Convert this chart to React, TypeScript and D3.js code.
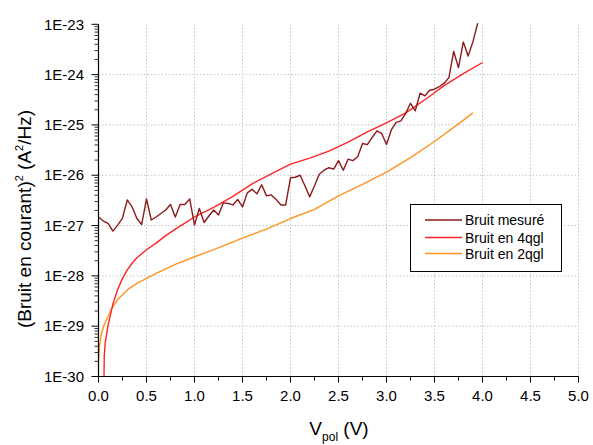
import React from 'react';
import * as d3 from 'd3';

// ---- data ----
const measuredV = [
  0, 0.05, 0.1, 0.15, 0.2, 0.25, 0.3, 0.35, 0.4, 0.45,
  0.5, 0.55, 0.6, 0.65, 0.7, 0.75, 0.8, 0.85, 0.9, 0.95,
  1.0, 1.05, 1.1, 1.15, 1.2, 1.25, 1.3, 1.35, 1.4, 1.45,
  1.5, 1.55, 1.6, 1.65, 1.7, 1.75, 1.8, 1.85, 1.9, 1.95,
  2.0, 2.05, 2.1, 2.15, 2.2, 2.25, 2.3, 2.35, 2.4, 2.45,
  2.5, 2.55, 2.6, 2.65, 2.7, 2.75, 2.8, 2.85, 2.9, 2.95,
  3.0, 3.05, 3.1, 3.15, 3.2, 3.25, 3.3, 3.35, 3.4, 3.45,
  3.5, 3.55, 3.6, 3.65, 3.7, 3.75, 3.8, 3.85, 3.9, 3.95,
];
const measuredNoise = [
  1.48e-27, 1.23e-27, 1.1e-27, 7.76e-28, 1.02e-27, 1.41e-27, 3.24e-27, 2.34e-27, 1.38e-27, 1.05e-27,
  3.39e-27, 1.29e-27, 1.48e-27, 1.74e-27, 2.04e-27, 2.63e-27, 1.48e-27, 2.63e-27, 2.63e-27, 3.39e-27,
  1.02e-27, 2.19e-27, 1.15e-27, 1.55e-27, 2.04e-27, 1.62e-27, 2.82e-27, 2.75e-27, 2.57e-27, 3.31e-27,
  2.34e-27, 4.47e-27, 5.25e-27, 4.27e-27, 6.46e-27, 3.89e-27, 4.07e-27, 3.31e-27, 2.57e-27, 2.57e-27,
  8.91e-27, 9.12e-27, 1.0e-26, 6.17e-27, 3.72e-27, 6.17e-27, 1.05e-26, 1.26e-26, 1.41e-26, 1.32e-26,
  1.95e-26, 1.26e-26, 2.09e-26, 1.95e-26, 2.34e-26, 4.27e-26, 4.07e-26, 5.62e-26, 7.59e-26, 6.76e-26,
  4.07e-26, 7.94e-26, 1.12e-25, 1.2e-25, 1.7e-25, 2.69e-25, 1.91e-25, 4.27e-25, 3.8e-25, 4.9e-25,
  5.13e-25, 5.75e-25, 6.76e-25, 8.71e-25, 2.88e-24, 1.38e-24, 4.47e-24, 2.34e-24, 4.47e-24, 1.05e-23,
];

const v4qgl = [0.05, 0.06, 0.07, 0.1, 0.15, 0.2, 0.25, 0.3, 0.35, 0.4, 0.5, 0.6, 0.7, 0.8, 0.9, 1.0, 1.2, 1.4, 1.6, 1.8, 2.0, 2.2, 2.4, 2.6, 2.8, 3.0, 3.2, 3.4, 3.5, 3.6, 3.8, 4.0];
const noise4qgl = [1e-31, 2.51e-30, 4.68e-30, 1.05e-29, 2.75e-29, 5.37e-29, 8.91e-29, 1.32e-28, 1.78e-28, 2.29e-28, 3.31e-28, 4.47e-28, 6.31e-28, 8.51e-28, 1.12e-27, 1.48e-27, 2.29e-27, 3.8e-27, 6.76e-27, 1.07e-26, 1.66e-26, 2.19e-26, 3.02e-26, 4.57e-26, 7.24e-26, 1.1e-25, 1.74e-25, 3.16e-25, 4.37e-25, 6.03e-25, 1.05e-24, 1.74e-24];

const v2qgl = [0, 0.01, 0.03, 0.06, 0.1, 0.14, 0.2, 0.3, 0.4, 0.5, 0.6, 0.8, 1.0, 1.2, 1.5, 1.75, 2.0, 2.25, 2.5, 2.75, 3.0, 3.25, 3.5, 3.75, 3.9];
const noise2qgl = [2.0e-30, 3.98e-30, 7.08e-30, 1.07e-29, 1.58e-29, 2.29e-29, 3.39e-29, 5.25e-29, 7.08e-29, 8.91e-29, 1.12e-28, 1.7e-28, 2.4e-28, 3.31e-28, 5.62e-28, 8.51e-28, 1.38e-27, 2.09e-27, 3.89e-27, 6.61e-27, 1.15e-26, 2.24e-26, 4.68e-26, 1.05e-25, 1.74e-25];

const xTickValues = [0, 0.5, 1.0, 1.5, 2.0, 2.5, 3.0, 3.5, 4.0, 4.5, 5.0];
const xTickLabels = ['0.0', '0.5', '1.0', '1.5', '2.0', '2.5', '3.0', '3.5', '4.0', '4.5', '5.0'];
const yTickValues = [1e-30, 1e-29, 1e-28, 1e-27, 1e-26, 1e-25, 1e-24, 1e-23];
const yTickLabels = ['1E-30', '1E-29', '1E-28', '1E-27', '1E-26', '1E-25', '1E-24', '1E-23'];
const legendLabels = ['Bruit mesuré', 'Bruit en 4qgl', 'Bruit en 2qgl'];
const seriesColors = ['#8b1a1a', '#ff2424', '#ff9424'];

const FONT = '"Liberation Sans", Arial, Helvetica, sans-serif';

export default function App() {
  const W = 593, H = 445;
  const left = 98.5, right = 578.5, top = 24.3, bottom = 376.5;
  const x = d3.scaleLinear().domain([0, 5]).range([left, right]);
  const y = d3.scaleLog().domain([1e-30, 1e-23]).range([bottom, top]);

  const line = d3.line<[number, number]>().x(d => x(d[0])).y(d => y(d[1]));
  const mk = (vs: number[], ns: number[]) => line(vs.map((v, i) => [v, ns[i]] as [number, number])) || '';

  const series = [
    mk(measuredV, measuredNoise),
    mk(v4qgl, noise4qgl),
    mk(v2qgl, noise2qgl),
  ];

  const minorY: number[] = [];
  for (let i = 0; i < yTickValues.length - 1; i++) {
    for (let k = 2; k <= 9; k++) minorY.push(yTickValues[i] * k);
  }
  const minorX: number[] = [];
  for (let i = 0; i < xTickValues.length - 1; i++) minorX.push((xTickValues[i] + xTickValues[i + 1]) / 2);

  const gridStyle = { stroke: '#c4c4c4', strokeWidth: 1, strokeDasharray: '1.5,2' };

  const legX = 410.5, legY = 204.5, legW = 151, legH = 67;
  const rowY = [220, 237.5, 253.5];

  return (
    <svg width={W} height={H} style={{ position: 'absolute', left: 0, top: 0, background: '#fff' }} fontFamily={FONT}>
      <defs>
        <clipPath id="plotclip">
          <rect x={left} y={0} width={right - left + 2} height={bottom} />
        </clipPath>
      </defs>
      <rect x={0} y={0} width={W} height={H} fill="#fff" />
      {/* grid */}
      {xTickValues.slice(1).map((v, i) => (
        <line key={'gx' + i} x1={x(v)} x2={x(v)} y1={top} y2={bottom} {...gridStyle} />
      ))}
      {yTickValues.slice(1, -1).map((v, i) => (
        <line key={'gy' + i} x1={left} x2={right} y1={y(v)} y2={y(v)} {...gridStyle} />
      ))}
      {/* series */}
      <g clipPath="url(#plotclip)" fill="none" strokeWidth={1.4} strokeLinejoin="round">
        <path d={series[2]} stroke={seriesColors[2]} />
        <path d={series[1]} stroke={seriesColors[1]} />
        <path d={series[0]} stroke={seriesColors[0]} />
      </g>
      {/* axes */}
      <line x1={left} x2={left} y1={top} y2={bottom} stroke="#000" strokeWidth={1.2} />
      <line x1={left} x2={right} y1={bottom} y2={bottom} stroke="#000" strokeWidth={1.2} />
      {yTickValues.map((v, i) => (
        <g key={'yt' + i}>
          <line x1={left - 7} x2={left} y1={y(v)} y2={y(v)} stroke="#000" strokeWidth={1} />
          <text x={84} y={y(v)} dy="0.35em" textAnchor="end" fontSize={15} fill="#000">{yTickLabels[i]}</text>
        </g>
      ))}
      {minorY.map((v, i) => (
        <line key={'ym' + i} x1={left - 4} x2={left} y1={y(v)} y2={y(v)} stroke="#000" strokeWidth={0.8} />
      ))}
      {xTickValues.map((v, i) => (
        <g key={'xt' + i}>
          <line x1={x(v)} x2={x(v)} y1={bottom} y2={bottom + 6} stroke="#000" strokeWidth={1} />
          <text x={x(v)} y={401} textAnchor="middle" fontSize={15} fill="#000">{xTickLabels[i]}</text>
        </g>
      ))}
      {minorX.map((v, i) => (
        <line key={'xm' + i} x1={x(v)} x2={x(v)} y1={bottom} y2={bottom + 4} stroke="#000" strokeWidth={1} />
      ))}
      {/* axis titles */}
      <text x={339} y={435} textAnchor="middle" fontSize={19} fill="#000">
        V<tspan fontSize={12} dy={6}>pol</tspan><tspan dy={-6}> (V)</tspan>
      </text>
      <text transform={`translate(31,219) rotate(-90)`} textAnchor="middle" fontSize={19} fill="#000">
        (Bruit en courant)<tspan fontSize={11} dy={-8}>2</tspan><tspan dy={8}> (A</tspan><tspan fontSize={11} dy={-8}>2</tspan><tspan dy={8}>/Hz)</tspan>
      </text>
      {/* legend */}
      <rect x={legX} y={legY} width={legW} height={legH} fill="#fff" stroke="#000" strokeWidth={1} />
      {legendLabels.map((lab, i) => (
        <g key={'lg' + i}>
          <line x1={425} x2={462} y1={rowY[i]} y2={rowY[i]} stroke={seriesColors[i]} strokeWidth={1.4} />
          <text x={465} y={rowY[i]} dy="0.36em" fontSize={14} fill="#000">{lab}</text>
        </g>
      ))}
    </svg>
  );
}
